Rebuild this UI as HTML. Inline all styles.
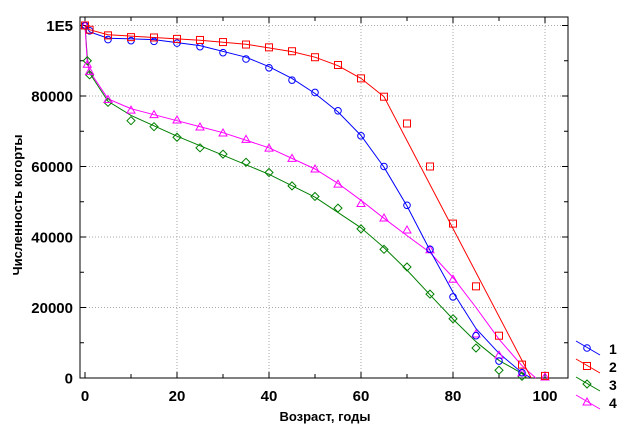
<!DOCTYPE html>
<html><head><meta charset="utf-8"><style>body{margin:0;background:#fff}svg{display:block}text{font-family:"Liberation Sans",sans-serif;font-weight:bold}</style></head>
<body><svg id="s" width="624" height="433" xmlns="http://www.w3.org/2000/svg"></svg>
<script>
const s=document.getElementById('s');let h='';
const X=v=>85+v*4.6, Y=v=>378-v*0.003525;
h+='<rect x="80" y="17" width="488" height="361" fill="#fff" stroke="#000"/>';
for(let i=0;i<=5;i++){const x=X(i*20);if(i>0)h+=`<line x1="${x}" y1="17" x2="${x}" y2="378" stroke="#aaa" stroke-dasharray="1,2"/>`;
h+=`<text x="${x}" y="401" font-size="15" text-anchor="middle">${i*20}</text>`;}
for(let i=0;i<105;i+=10){const x=X(i);h+=`<line x1="${x}" y1="378" x2="${x}" y2="${i%20?374:372}" stroke="#000"/><line x1="${x}" y1="17" x2="${x}" y2="${i%20?21:23}" stroke="#000"/>`;}
const yl=['0','20000','40000','60000','80000','1E5'];
for(let i=0;i<=5;i++){const y=Y(i*20000);if(i>0)h+=`<line x1="80" y1="${y}" x2="568" y2="${y}" stroke="#aaa" stroke-dasharray="1,2"/>`;
h+=`<text x="73" y="${y+5.5}" font-size="15" text-anchor="end">${yl[i]}</text>`;}
for(let v=0;v<=100000;v+=10000){const y=Y(v);h+=`<line x1="80" y1="${y}" x2="${v%20000?84:86}" y2="${y}" stroke="#000"/><line x1="568" y1="${y}" x2="${v%20000?564:562}" y2="${y}" stroke="#000"/>`;}
h+='<text x="325" y="421" font-size="13" text-anchor="middle">Возраст, годы</text>';
h+='<text transform="translate(22,205) rotate(-90)" font-size="13" text-anchor="middle">Численность когорты</text>';
const A=[0,1,5,10,15,20,25,30,35,40,45,50,55,60,65,70,75,80,85,90,95];
const d1=[100000,98500,96000,95700,95500,95000,94000,92300,90500,88000,84500,81000,75800,68700,60000,49000,36500,23000,12000,4800,1500];
const d2=[100000,98800,97200,96700,96600,96200,95900,95300,94600,93800,92700,91000,88800,85000,79800,72200,60000,43800,26000,12000,3800,600];
const A3=[0,0.5,1,5,10,15,20,25,30,35,40,45,50,55,60,65,70,75,80,85,90,95];
const d3=[100000,90000,86000,78200,73000,71300,68300,65300,63500,61200,58300,54500,51500,48200,42300,36500,31500,23800,16800,8500,2200,500];
const d4=[100000,89000,87000,79000,76000,74700,73200,71200,69500,67700,65200,62300,59300,55000,49500,45400,42000,36400,28000,12500,6500,1500,300];
const A4=A3.concat([100]);
const L1=[[0,100000],[1,98200],[5,96400],[15,96000],[25,94300],[35,91000],[40,88300],[45,85000],[50,80700],[55,75500],[60,68800],[65,59800],[70,48800],[75,36200],[80,24300],[85,14000],[90,7000],[95,1500],[97,0]];
const L2=[[0,100000],[1,98800],[5,97400],[15,96600],[25,95800],[35,94700],[45,92600],[50,91000],[55,88600],[60,85000],[65,79800],[97,0]];
const L3=[[0,100000],[0.5,91000],[1,86500],[5,78500],[10,74500],[20,68600],[30,63200],[40,57800],[50,51300],[60,42600],[65,37000],[70,30600],[75,23600],[80,16700],[85,10300],[90,5000],[95,1300],[96,0]];
const L4=[[0,100000],[0.5,89500],[1,87000],[5,79200],[10,76400],[20,73000],[30,69600],[40,65300],[50,59300],[55,55200],[60,50400],[65,45300],[70,40400],[75,35600],[80,28500],[85,20000],[90,11000],[95,3500],[98,0]];
function pl(L,c){return `<polyline fill="none" stroke="${c}" stroke-width="1" points="${L.map(p=>X(p[0]).toFixed(1)+','+Y(p[1]).toFixed(1)).join(' ')}"/>`;}
function mk(t,x,y,c){if(t==1)return `<circle cx="${x}" cy="${y}" r="3.3" fill="none" stroke="${c}"/>`;
if(t==2)return `<rect x="${x-3.5}" y="${y-3.5}" width="7" height="7" fill="none" stroke="${c}"/>`;
if(t==3)return `<polygon points="${x},${y-4} ${x+4},${y} ${x},${y+4} ${x-4},${y}" fill="none" stroke="${c}"/>`;
return `<polygon points="${x},${y-4} ${x+4},${y+3} ${x-4},${y+3}" fill="none" stroke="${c}"/>`;}
h+=pl(L3,'#008000')+pl(L4,'#ff00ff')+pl(L1,'#0000ff')+pl(L2,'#ff0000');
A3.forEach((a,i)=>h+=mk(3,X(a),Y(d3[i]),'#008000'));
A4.forEach((a,i)=>h+=mk(4,X(a),Y(d4[i]),'#ff00ff'));
A.forEach((a,i)=>h+=mk(1,X(a),Y(d1[i]),'#0000ff'));
A.concat([100]).forEach((a,i)=>h+=mk(2,X(a),Y(d2[i]),'#ff0000'));
const cs=['#0000ff','#ff0000','#008000','#ff00ff'];
for(let i=0;i<4;i++){const y=348+i*18;h+=`<line x1="576" y1="${y-7}" x2="600" y2="${y+7}" stroke="${cs[i]}"/>`+mk(i+1,587,y,cs[i])+`<text x="609" y="${y+6}" font-size="14">${i+1}</text>`;}
s.innerHTML=h;
</script></body></html>
